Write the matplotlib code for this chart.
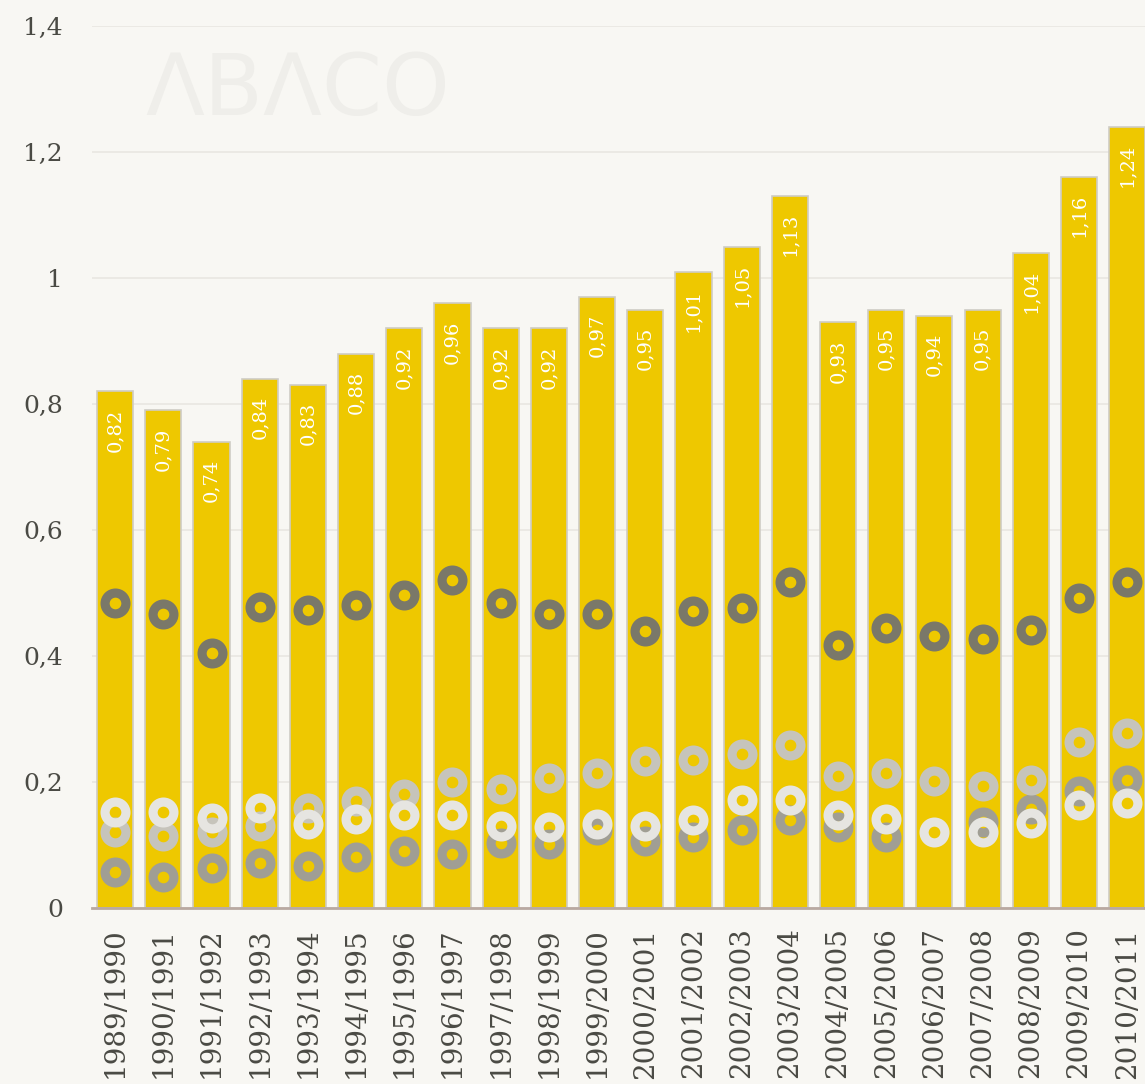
import numpy as np
import matplotlib.pyplot as plt

# Seasons and values
seasons = ['1989/1990', '1990/1991', '1991/1992', '1992/1993', '1993/1994', '1994/1995',
           '1995/1996', '1996/1997', '1997/1998', '1998/1999', '1999/2000', '2000/2001',
           '2001/2002', '2002/2003', '2003/2004', '2004/2005', '2005/2006', '2006/2007',
           '2007/2008', '2008/2009', '2009/2010', '2010/2011']
total = [0.82, 0.79, 0.74, 0.84, 0.83, 0.88, 0.92, 0.96, 0.92, 0.92, 0.97,
         0.95, 1.01, 1.05, 1.13, 0.93, 0.95, 0.94, 0.95, 1.04, 1.16, 1.24]
dark = [0.484, 0.467, 0.405, 0.478, 0.473, 0.481, 0.497, 0.521, 0.484, 0.467, 0.467,
        0.440, 0.471, 0.476, 0.517, 0.417, 0.444, 0.432, 0.427, 0.441, 0.492, 0.517]
medium = [0.057, 0.050, 0.063, 0.072, 0.067, 0.081, 0.090, 0.085, 0.103, 0.101, 0.124,
          0.107, 0.113, 0.124, 0.140, 0.128, 0.112, np.nan, 0.137, 0.157, 0.186, 0.203]
light = [0.121, 0.114, 0.120, 0.130, 0.159, 0.170, 0.181, 0.200, 0.189, 0.207, 0.215,
         0.234, 0.235, 0.245, 0.259, 0.210, 0.214, 0.202, 0.194, 0.203, 0.264, 0.277]
white = [0.153, 0.152, 0.143, 0.158, 0.133, 0.141, 0.147, 0.148, 0.130, 0.129, 0.134,
         0.130, 0.139, 0.171, 0.171, 0.147, 0.141, 0.121, 0.120, 0.135, 0.163, 0.167]
ytick_vals = [0, 0.2, 0.4, 0.6, 0.8, 1.0, 1.2, 1.4]
ytick_labels = ['0', '0,2', '0,4', '0,6', '0,8', '1', '1,2', '1,4']

bg = '#f8f7f3'
fig = plt.figure(figsize=(11.45, 10.84), dpi=100, facecolor=bg)
ax = fig.add_axes([92 / 1145, 176 / 1084, (1145 - 92) / 1145, (908 - 26) / 1084])
ax.set_facecolor(bg)

# watermark
fig.text(145 / 1145, 1 - 92 / 1084, 'ΛBΛCO', fontsize=62, color='#efeeea',
         family='DejaVu Sans', va='center', ha='left', zorder=0)

x = np.arange(len(seasons))
ax.bar(x, total, width=0.75, color='#eec800', edgecolor='#cfccc5', linewidth=1.2, zorder=2)

for xi, v in zip(x, total):
    ax.text(xi, v - 0.027, f'{v:.2f}'.replace('.', ','), rotation=90, ha='center', va='top',
            color='white', fontsize=14, family='DejaVu Serif', zorder=5)

ring = dict(linestyle='none', marker='o', markersize=15, mfc='none', mew=6.6, zorder=4)
ax.plot(x, dark, mec='#7a7869', **ring)
ax.plot(x, medium, mec='#a09e94', **ring)
ax.plot(x, light, mec='#c6c4bb', **ring)
ax.plot(x, white, mec='#e6e5e1', **ring)

ax.set_xlim(-0.48, 21.37)
ax.set_ylim(0, 1.4)
ax.set_yticks(ytick_vals)
ax.set_yticklabels(ytick_labels, family='DejaVu Serif', fontsize=18, color='#4a4a44')
ax.set_xticks(x)
ax.set_xticklabels(seasons, rotation=90, family='DejaVu Serif', fontsize=20, color='#4a4a44')
ax.tick_params(axis='y', length=0, pad=21)
ax.tick_params(axis='x', length=0, pad=14)
ax.grid(axis='y', color='#e9e7e1', linewidth=1.2, zorder=0)
ax.set_axisbelow(True)
for s in ['top', 'right', 'left']:
    ax.spines[s].set_visible(False)
ax.spines['bottom'].set_color('#b9a9a1')
ax.spines['bottom'].set_linewidth(2)
ax.spines['bottom'].set_zorder(6)

plt.savefig('out.png', dpi=100, facecolor=bg)
